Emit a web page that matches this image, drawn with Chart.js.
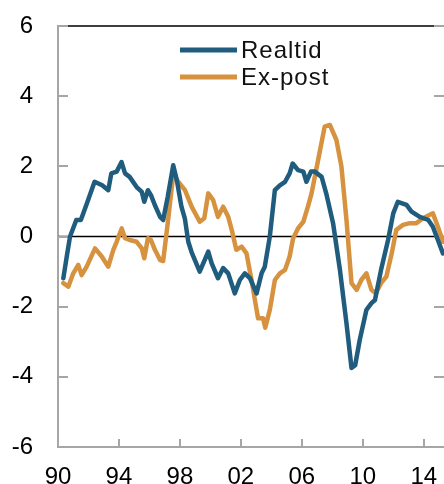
<!DOCTYPE html>
<html><head><meta charset="utf-8">
<script src="https://cdn.jsdelivr.net/npm/chart.js@4.4.1/dist/chart.umd.min.js"></script>
<style>html,body{margin:0;padding:0;background:#fff;}#wrap{width:444px;height:484px;position:relative;}</style>
</head><body><div id="wrap"><canvas id="c" width="444" height="484"></canvas></div>
<script>
const seriesNames = ['Realtid', 'Ex-post'];
const seriesColors = ['#1F5C7D', '#D6923E'];

const realtidYears = [1990.35,1990.6,1990.79,1991.2,1991.5,1991.9,1992.4,1992.9,1993.3,1993.5,1993.85,1994.17,1994.4,1994.7,1995.16,1995.5,1995.66,1995.9,1996.1,1996.36,1996.7,1996.9,1997.2,1997.56,1997.8,1998.1,1998.33,1998.55,1998.77,1999.3,1999.86,2000.08,2000.5,2000.84,2001.17,2001.6,2001.93,2002.26,2002.6,2003.03,2003.36,2003.57,2003.9,2004.23,2004.56,2004.9,2005.2,2005.4,2005.75,2006.1,2006.3,2006.6,2006.85,2007.3,2007.6,2008.05,2008.5,2008.93,2009.26,2009.5,2009.8,2010.24,2010.57,2010.8,2011.2,2011.66,2012.0,2012.3,2012.87,2013.2,2013.74,2014.3,2014.6,2014.93,2015.26];
const realtidValues = [-1.19,-0.5,0.0,0.47,0.47,0.95,1.56,1.46,1.32,1.8,1.85,2.12,1.8,1.7,1.41,1.27,0.99,1.32,1.18,0.89,0.56,0.47,1.13,2.03,1.6,0.85,0.5,-0.15,-0.45,-1.0,-0.43,-0.76,-1.19,-0.9,-1.05,-1.62,-1.24,-1.05,-1.19,-1.62,-1.05,-0.86,0.0,1.32,1.46,1.56,1.8,2.08,1.89,1.85,1.56,1.85,1.85,1.7,1.23,0.38,-0.95,-2.47,-3.75,-3.67,-2.95,-2.09,-1.9,-1.81,-0.95,-0.1,0.66,0.99,0.9,0.71,0.56,0.47,0.28,-0.1,-0.48];

const expostYears = [1990.35,1990.68,1991.0,1991.33,1991.55,1991.88,1992.43,1992.87,1993.3,1993.63,1993.85,1994.18,1994.4,1994.7,1995.16,1995.5,1995.66,1995.9,1996.1,1996.36,1996.7,1996.9,1997.2,1997.56,1997.9,1998.33,1998.77,1999.3,1999.6,1999.86,2000.18,2000.5,2000.84,2001.17,2001.4,2001.7,2002.05,2002.37,2002.7,2002.92,2003.13,2003.46,2003.6,2003.9,2004.23,2004.56,2004.9,2005.2,2005.43,2005.75,2006.1,2006.4,2006.64,2007.07,2007.5,2007.84,2008.27,2008.6,2008.93,2009.26,2009.6,2009.9,2010.24,2010.57,2010.85,2011.2,2011.55,2011.9,2012.2,2012.64,2013.08,2013.52,2013.95,2014.6,2014.93,2015.26];
const expostValues = [-1.33,-1.43,-1.05,-0.81,-1.1,-0.86,-0.34,-0.57,-0.86,-0.38,-0.15,0.23,-0.05,-0.1,-0.15,-0.34,-0.62,-0.05,-0.1,-0.38,-0.67,-0.7,0.38,1.75,1.56,1.32,0.85,0.42,0.52,1.23,1.04,0.56,0.85,0.56,0.19,-0.38,-0.29,-0.48,-1.24,-1.81,-2.33,-2.33,-2.6,-2.09,-1.24,-1.05,-0.95,-0.57,-0.05,0.23,0.42,0.85,1.23,2.18,3.13,3.18,2.75,1.99,0.47,-1.33,-1.52,-1.24,-1.05,-1.52,-1.62,-1.33,-1.14,-0.48,0.19,0.33,0.38,0.38,0.52,0.66,0.28,-0.15];

const yTicks = [-6, -4, -2, 0, 2, 4, 6];
const xTickYears = [1990, 1994, 1998, 2002, 2006, 2010, 2014];
const xTickLabels = ['90', '94', '98', '02', '06', '10', '14'];
const xMin = 1990, xMax = 2015.33;

const FONT = "'Liberation Sans', Arial, sans-serif";
const AXIS_GRAY = '#A6A6A6';

function pairs(xs, ys) { return xs.map((x, i) => ({ x: x, y: ys[i] })); }

const decor = {
  id: 'decor',
  beforeDatasetsDraw(chart) {
    const { ctx, chartArea: a, scales: { x, y } } = chart;
    ctx.save();
    ctx.strokeStyle = '#000';
    ctx.lineWidth = 1.5;
    ctx.beginPath();
    ctx.moveTo(a.left, y.getPixelForValue(6)); ctx.lineTo(a.right, y.getPixelForValue(6));
    ctx.moveTo(a.left, y.getPixelForValue(0)); ctx.lineTo(a.right, y.getPixelForValue(0));
    ctx.stroke();
    ctx.strokeStyle = AXIS_GRAY;
    ctx.lineWidth = 2;
    ctx.beginPath();
    yTicks.forEach(v => {
      const p = Math.round(y.getPixelForValue(v));
      ctx.moveTo(a.left, p); ctx.lineTo(a.left + 10, p);
      ctx.moveTo(a.right - 10, p); ctx.lineTo(a.right, p);
    });
    xTickYears.forEach(v => {
      const p = Math.round(x.getPixelForValue(v));
      ctx.moveTo(p, a.bottom); ctx.lineTo(p, a.bottom - 8);
    });
    ctx.stroke();
    ctx.restore();
  },
  afterDraw(chart) {
    const { ctx } = chart;
    ctx.save();
    const rows = [50, 77];
    chart.data.datasets.forEach((ds, i) => {
      ctx.strokeStyle = ds.borderColor;
      ctx.lineWidth = 5;
      ctx.lineCap = 'butt';
      ctx.beginPath();
      ctx.moveTo(180, rows[i]); ctx.lineTo(237, rows[i]);
      ctx.stroke();
      ctx.fillStyle = '#111';
      ctx.font = '24px ' + FONT;
      ctx.textBaseline = 'middle';
      ctx.textAlign = 'left';
      try { ctx.letterSpacing = '1px'; } catch (e) {}
      ctx.fillText(ds.label, 241, rows[i] + 1);
    });
    ctx.restore();
  }
};

new Chart(document.getElementById('c'), {
  type: 'line',
  data: {
    datasets: [
      { label: seriesNames[0], data: pairs(realtidYears, realtidValues), borderColor: seriesColors[0] },
      { label: seriesNames[1], data: pairs(expostYears, expostValues), borderColor: seriesColors[1] }
    ]
  },
  options: {
    responsive: false,
    animation: false,
    layout: { padding: { top: 26, right: 0, bottom: 0, left: 0 } },
    elements: {
      point: { radius: 0 },
      line: { borderWidth: 4.5, tension: 0, borderJoinStyle: 'round', borderCapStyle: 'round', fill: false }
    },
    plugins: { legend: { display: false }, tooltip: { enabled: false } },
    scales: {
      x: {
        type: 'linear', min: xMin, max: xMax,
        afterBuildTicks: s => { s.ticks = xTickYears.map(v => ({ value: v })); },
        afterFit: s => { s.height = 37; s.paddingLeft = 0; s.paddingRight = 0; },
        ticks: {
          autoSkip: false, maxRotation: 0, padding: 16, color: '#000',
          font: { family: FONT, size: 24 },
          callback: v => xTickLabels[xTickYears.indexOf(v)]
        },
        grid: { display: false, drawTicks: false, tickLength: 0 },
        border: { display: true, color: AXIS_GRAY, width: 2 }
      },
      y: {
        min: -6, max: 6,
        afterBuildTicks: s => { s.ticks = yTicks.map(v => ({ value: v })); },
        afterFit: s => { s.width = 58; s.paddingTop = 0; s.paddingBottom = 0; },
        ticks: {
          padding: 25, color: '#000',
          font: { family: FONT, size: 24 },
          callback: v => String(v)
        },
        grid: { display: false, drawTicks: false, tickLength: 0 },
        border: { display: true, color: AXIS_GRAY, width: 2 }
      }
    }
  },
  plugins: [decor]
});
</script>
</body></html>
